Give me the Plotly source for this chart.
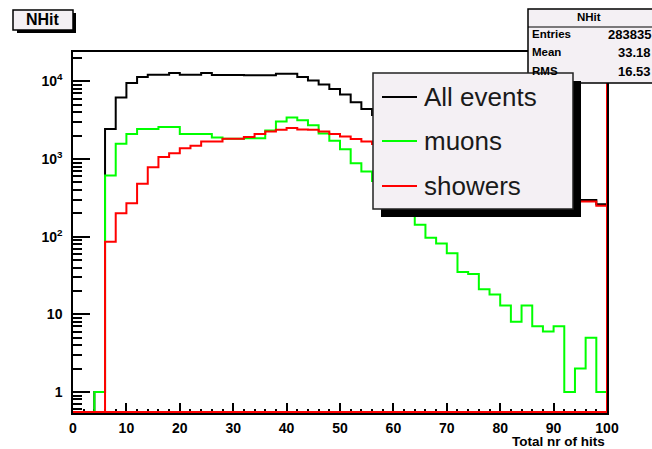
import plotly.graph_objects as go
import math

# ---------------- data ----------------
bin_lo = list(range(0, 100, 2))          # lower edges of 50 bins (width 2)
x_max = 100

all_events = [0, 0, 1, 2430, 6220, 9530, 11400, 12200, 12200, 12800,
              12200, 12200, 12800, 12100, 12100, 12100, 12000, 12000, 12000, 12600,
              12600, 11400, 10300, 9100, 8000, 6800, 5400, 4400, 3700, 3150,
              2650, 2250, 1900, 1620, 1380, 1180, 1010, 880, 770, 680,
              600, 540, 480, 430, 395, 365, 335, 298, 298, 262]

muons = [0, 0, 1, 612, 1570, 2110, 2430, 2430, 2580, 2580,
         2110, 2110, 2110, 1890, 1820, 1820, 1860, 1860, 2330, 3050,
         3430, 3170, 2730, 2130, 1720, 1340, 885, 690, 520, 390,
         290, 205, 142, 97, 82, 61, 35, 33, 21, 18,
         13, 8, 13, 7, 6, 7, 1, 2, 5, 1]

showers = [0, 0, 0, 86, 200, 270, 479, 786, 1060, 1190,
           1380, 1480, 1680, 1680, 1820, 1820, 1920, 2110, 2260, 2380,
           2520, 2400, 2380, 2260, 2100, 1950, 1810, 1680, 1560, 1440,
           1320, 1210, 1100, 1000, 910, 830, 755, 690, 630, 575,
           525, 480, 440, 405, 375, 350, 325, 283, 283, 251]

series_names = ["All events", "muons", "showers"]
series_colors = ["#000000", "#00ff00", "#ff0000"]

stats_labels = ["Entries", "Mean", "RMS"]
stats_values = ["283835", "33.18", "16.53"]

y_tickvals = [1, 10, 100, 1000, 10000]
y_ticktext = ["1", "10", "10<sup>2</sup>", "10<sup>3</sup>", "10<sup>4</sup>"]

# ---------------- layout geometry ----------------
W, H = 652, 449
L, R, T, B = 73, 607, 52, 413
PW, PH = R - L, B - T
ylog_min, ylog_max = -0.271, 4.379
floor = 10 ** (ylog_min + 0.012)


def px(x):
    return (x - L) / PW


def py(y):
    return (B - y) / PH


def step_trace(vals, color, name):
    xs = bin_lo + [x_max, x_max, 0]
    ys = [v if v > 0 else floor for v in vals]
    ys = ys + [ys[-1], floor, floor]
    return go.Scatter(x=xs, y=ys, mode="lines", line=dict(color=color, width=2, shape="hv"),
                      name=name, showlegend=False, hoverinfo="skip")


fig = go.Figure()
for vals, col, nm in zip([all_events, muons, showers], series_colors, series_names):
    fig.add_trace(step_trace(vals, col, nm))

minor_y = [m * 10 ** e for e in range(-1, 5) for m in range(2, 10)]
minor_y = [v for v in minor_y if ylog_min < math.log10(v) < ylog_max]

fig.update_layout(
    width=W, height=H,
    margin=dict(l=L, r=W - R, t=T, b=H - B, autoexpand=False),
    paper_bgcolor="white", plot_bgcolor="white",
    font=dict(family="Liberation Sans, Arial, sans-serif", color="black"),
    xaxis=dict(range=[0, x_max], showgrid=False, zeroline=False,
               showline=True, mirror=True, linecolor="black", linewidth=1.5,
               ticks="inside", ticklen=10, tickwidth=1.5, tickcolor="black",
               tickmode="linear", tick0=0, dtick=10,
               minor=dict(ticks="inside", ticklen=4, tickwidth=1.5, tickcolor="black",
                          tickmode="linear", tick0=0, dtick=2, showgrid=False),
               tickfont=dict(size=14, family="Liberation Sans", weight="bold"),
               ticklabelstandoff=1,
               layer="below traces"),
    yaxis=dict(type="log", range=[ylog_min, ylog_max], showgrid=False, zeroline=False,
               showline=True, mirror=True, linecolor="black", linewidth=1.5,
               ticks="inside", ticklen=17, tickwidth=1.5, tickcolor="black",
               tickmode="array", tickvals=y_tickvals, ticktext=y_ticktext,
               ticklabelstandoff=6,
               minor=dict(ticks="inside", ticklen=9, tickwidth=1.5, tickcolor="black",
                          tickmode="array", tickvals=minor_y, showgrid=False),
               tickfont=dict(size=14, family="Liberation Sans", weight="bold"),
               layer="below traces"),
)

shapes = []
# red right edge of histogram frame
shapes.append(dict(type="line", xref="x", yref="paper", x0=x_max, x1=x_max, y0=0, y1=1,
                   line=dict(color="#ff0000", width=2), layer="above"))
# title box
shapes.append(dict(type="rect", xref="paper", yref="paper", x0=px(17), x1=px(76), y0=py(33), y1=py(13),
                   fillcolor="black", line=dict(width=0), layer="above"))
shapes.append(dict(type="rect", xref="paper", yref="paper", x0=px(13), x1=px(73), y0=py(30), y1=py(10),
                   fillcolor="#f4f0f4", line=dict(color="black", width=1.5), layer="above"))
# stats box
shapes.append(dict(type="rect", xref="paper", yref="paper", x0=px(528), x1=px(680), y0=py(83), y1=py(9),
                   fillcolor="#f4f0f4", line=dict(color="black", width=1.5), layer="above"))
shapes.append(dict(type="line", xref="paper", yref="paper", x0=px(528), x1=px(680), y0=py(27), y1=py(27),
                   line=dict(color="black", width=1), layer="above"))
# legend box
shapes.append(dict(type="rect", xref="paper", yref="paper", x0=px(381), x1=px(581), y0=py(217), y1=py(81),
                   fillcolor="black", line=dict(width=0), layer="above"))
shapes.append(dict(type="rect", xref="paper", yref="paper", x0=px(373), x1=px(573), y0=py(209), y1=py(73),
                   fillcolor="#f4f0f4", line=dict(color="#222222", width=1.5), layer="above"))
legend_rows = [97, 141, 186]
for yy, col in zip(legend_rows, series_colors):
    shapes.append(dict(type="line", xref="paper", yref="paper", x0=px(382), x1=px(417), y0=py(yy), y1=py(yy),
                       line=dict(color=col, width=2), layer="above"))
fig.update_layout(shapes=shapes)

ann = []
ann.append(dict(text="NHit", x=px(43), y=py(20), xref="paper", yref="paper", showarrow=False,
                xanchor="center", yanchor="middle", font=dict(size=16, weight="bold")))
ann.append(dict(text="NHit", x=px(589), y=py(17), xref="paper", yref="paper", showarrow=False,
                xanchor="center", yanchor="middle", font=dict(size=11.5, weight="bold")))
for yy, lab, val in zip([34, 52, 71], stats_labels, stats_values):
    ann.append(dict(text=lab, x=px(530), y=py(yy), xref="paper", yref="paper", showarrow=False,
                    xanchor="left", yanchor="middle", font=dict(size=11.5, weight="bold")))
    ann.append(dict(text=val, x=px(653), y=py(yy), xref="paper", yref="paper", showarrow=False,
                    xanchor="right", yanchor="middle", font=dict(size=13, weight="bold")))
for yy, nm in zip(legend_rows, series_names):
    ann.append(dict(text=nm, x=px(422), y=py(yy), xref="paper", yref="paper", showarrow=False,
                    xanchor="left", yanchor="middle", font=dict(size=26, color="#1a1a1a")))
ann.append(dict(text="Total nr of hits", x=1, y=py(442), xref="paper", yref="paper", showarrow=False,
                xanchor="right", yanchor="middle", font=dict(size=13.5, weight="bold")))
fig.update_layout(annotations=ann)

fig.write_html("out.html")
